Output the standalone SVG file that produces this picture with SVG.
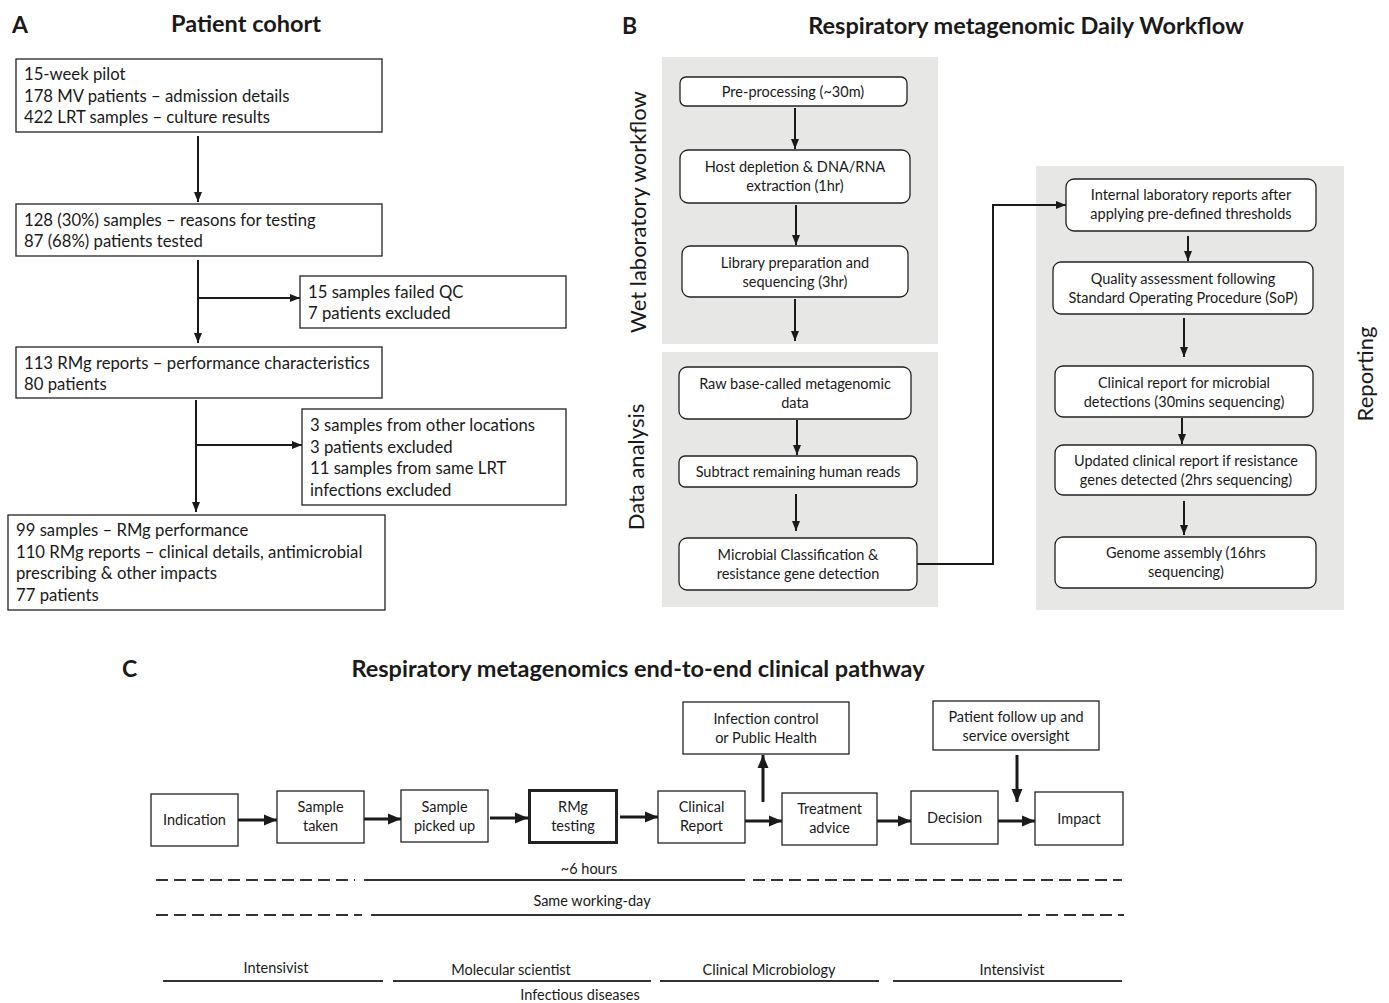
<svg xmlns="http://www.w3.org/2000/svg" width="1389" height="1003" viewBox="0 0 1389 1003">
<defs>
<marker id="ah" markerUnits="userSpaceOnUse" markerWidth="10" markerHeight="10" viewBox="0 0 10 10" refX="10" refY="5" orient="auto"><path d="M0,1 L10,5 L0,9 Z" fill="#1a1a1a"/></marker>
<marker id="ahc" markerUnits="userSpaceOnUse" markerWidth="13" markerHeight="13" viewBox="0 0 13 13" refX="13" refY="6.5" orient="auto"><path d="M0,1 L13,6.5 L0,12 Z" fill="#1a1a1a"/></marker>
</defs>
<style>
text{font-family:Lato,"Open Sans","Liberation Sans",sans-serif;fill:#1a1a1a}
.lbl{font-weight:bold;font-size:23px}
.ttl{font-weight:bold;font-size:23.5px;text-anchor:middle}
.a{font-size:16.7px}
.b{font-size:14.5px;text-anchor:middle}
.c{font-size:14.5px;text-anchor:middle}
.t{font-size:14.5px;text-anchor:middle}
.v{font-size:22px;text-anchor:middle}
.box{fill:#fff;stroke:#222;stroke-width:1.3}
.rbox{fill:#fff;stroke:#222;stroke-width:1.3}
.bg{fill:#e7e8e6}
.con{fill:none;stroke:#1a1a1a;stroke-width:2}
.conc{fill:none;stroke:#1a1a1a;stroke-width:3}
.tl{fill:none;stroke:#333;stroke-width:2}
.dash{stroke-dasharray:12 6}
</style>

<!-- Panel labels and titles -->
<text class="lbl" x="12" y="33">A</text>
<text class="ttl" x="246" y="32">Patient cohort</text>
<text class="lbl" x="622" y="34">B</text>
<text class="ttl" x="1026" y="34">Respiratory metagenomic Daily Workflow</text>
<text class="lbl" x="122" y="677">C</text>
<text class="ttl" x="638" y="677">Respiratory metagenomics end-to-end clinical pathway</text>

<!-- Panel B backgrounds -->
<rect class="bg" x="662" y="57" width="276" height="287"/>
<rect class="bg" x="662" y="352" width="276" height="255"/>
<rect class="bg" x="1036" y="166" width="308" height="444"/>
<text class="v" transform="translate(646,212) rotate(-90)">Wet laboratory workflow</text>
<text class="v" transform="translate(644,467) rotate(-90)">Data analysis</text>
<text class="v" transform="translate(1373,374) rotate(-90)">Reporting</text>

<!-- Connectors -->
<g id="connectors">
<path class="con" d="M198,136 V202" marker-end="url(#ah)"/>
<path class="con" d="M198,260 V343" marker-end="url(#ah)"/>
<path class="con" d="M198,298 H300" marker-end="url(#ah)"/>
<path class="con" d="M196,400 V512" marker-end="url(#ah)"/>
<path class="con" d="M196,445 H302" marker-end="url(#ah)"/>

<path class="con" d="M795,108 V149" marker-end="url(#ah)"/>
<path class="con" d="M796,205 V245" marker-end="url(#ah)"/>
<path class="con" d="M795,299 V341" marker-end="url(#ah)"/>
<path class="con" d="M797,420 V455" marker-end="url(#ah)"/>
<path class="con" d="M796,494 V531" marker-end="url(#ah)"/>
<path class="con" d="M917,564 H993 V205 H1066" marker-end="url(#ah)"/>
<path class="con" d="M1188,236 V261" marker-end="url(#ah)"/>
<path class="con" d="M1184,318 V357" marker-end="url(#ah)"/>
<path class="con" d="M1182,418 V444" marker-end="url(#ah)"/>
<path class="con" d="M1184,501 V535" marker-end="url(#ah)"/>

<path class="conc" d="M238,820 H277" marker-end="url(#ahc)"/>
<path class="conc" d="M364,819 H401" marker-end="url(#ahc)"/>
<path class="conc" d="M490,818 H528" marker-end="url(#ahc)"/>
<path class="conc" d="M620,817 H658" marker-end="url(#ahc)"/>
<path class="conc" d="M745,821 H782" marker-end="url(#ahc)"/>
<path class="conc" d="M763,802 V755" marker-end="url(#ahc)"/>
<path class="conc" d="M877,821 H911" marker-end="url(#ahc)"/>
<path class="conc" d="M998,821 H1035" marker-end="url(#ahc)"/>
<path class="conc" d="M1017,755 V802" marker-end="url(#ahc)"/>
</g>

<!-- Panel A nodes -->
<g id="a1"><rect class="box" x="16" y="59" width="366" height="73"/>
<text class="a" x="24" y="80">15-week pilot</text><text class="a" x="24" y="102">178 MV patients – admission details</text><text class="a" x="24" y="123">422 LRT samples – culture results</text></g>
<g id="a2"><rect class="box" x="16" y="204" width="366" height="52"/>
<text class="a" x="24" y="226">128 (30%) samples – reasons for testing</text><text class="a" x="24" y="247">87 (68%) patients tested</text></g>
<g id="a3"><rect class="box" x="300" y="276" width="266" height="52"/>
<text class="a" x="308" y="298">15 samples failed QC</text><text class="a" x="308" y="319">7 patients excluded</text></g>
<g id="a4"><rect class="box" x="16" y="347" width="366" height="51"/>
<text class="a" x="24" y="369">113 RMg reports – performance characteristics</text><text class="a" x="24" y="390">80 patients</text></g>
<g id="a5"><rect class="box" x="302" y="409" width="264" height="96"/>
<text class="a" x="310" y="431">3 samples from other locations</text><text class="a" x="310" y="453">3 patients excluded</text><text class="a" x="310" y="474">11 samples from same LRT</text><text class="a" x="310" y="496">infections excluded</text></g>
<g id="a6"><rect class="box" x="8" y="515" width="377" height="95"/>
<text class="a" x="16" y="536">99 samples – RMg performance</text><text class="a" x="16" y="558">110 RMg reports – clinical details, antimicrobial</text><text class="a" x="16" y="579">prescribing &amp; other impacts</text><text class="a" x="16" y="601">77 patients</text></g>

<!-- Panel B nodes -->
<g id="b1"><rect class="rbox" x="680" y="77" width="227" height="29" rx="6"/><text class="b" x="793" y="97">Pre-processing (~30m)</text></g>
<g id="b2"><rect class="rbox" x="680" y="150" width="230" height="53" rx="8"/><text class="b" x="795" y="172">Host depletion &amp; DNA/RNA</text><text class="b" x="795" y="191">extraction (1hr)</text></g>
<g id="b3"><rect class="rbox" x="682" y="246" width="226" height="51" rx="8"/><text class="b" x="795" y="268">Library preparation and</text><text class="b" x="795" y="287">sequencing (3hr)</text></g>
<g id="b4"><rect class="rbox" x="679" y="367" width="232" height="52" rx="8"/><text class="b" x="795" y="389">Raw base-called metagenomic</text><text class="b" x="795" y="408">data</text></g>
<g id="b5"><rect class="rbox" x="679" y="456" width="238" height="31" rx="6"/><text class="b" x="798" y="477">Subtract remaining human reads</text></g>
<g id="b6"><rect class="rbox" x="679" y="538" width="238" height="52" rx="8"/><text class="b" x="798" y="560">Microbial Classification &amp;</text><text class="b" x="798" y="579">resistance gene detection</text></g>
<g id="b7"><rect class="rbox" x="1066" y="179" width="250" height="52" rx="8"/><text class="b" x="1191" y="200">Internal laboratory reports after</text><text class="b" x="1191" y="219">applying pre-defined thresholds</text></g>
<g id="b8"><rect class="rbox" x="1053" y="262" width="260" height="52" rx="8"/><text class="b" x="1183" y="284">Quality assessment following</text><text class="b" x="1183" y="303">Standard Operating Procedure (SoP)</text></g>
<g id="b9"><rect class="rbox" x="1055" y="366" width="258" height="51" rx="8"/><text class="b" x="1184" y="388">Clinical report for microbial</text><text class="b" x="1184" y="407">detections (30mins sequencing)</text></g>
<g id="b10"><rect class="rbox" x="1055" y="445" width="261" height="50" rx="8"/><text class="b" x="1186" y="466">Updated clinical report if resistance</text><text class="b" x="1186" y="485">genes detected  (2hrs sequencing)</text></g>
<g id="b11"><rect class="rbox" x="1055" y="537" width="261" height="51" rx="8"/><text class="b" x="1186" y="558">Genome assembly (16hrs</text><text class="b" x="1186" y="577">sequencing)</text></g>

<!-- Panel C nodes -->
<g id="c1"><rect class="box" x="151" y="794" width="87" height="52"/><text class="c" x="194.5" y="825">Indication</text></g>
<g id="c2"><rect class="box" x="277" y="791" width="87" height="52"/><text class="c" x="320.5" y="812">Sample</text><text class="c" x="320.5" y="831">taken</text></g>
<g id="c3"><rect class="box" x="401" y="790" width="87" height="52"/><text class="c" x="444.5" y="812">Sample</text><text class="c" x="444.5" y="831">picked up</text></g>
<g id="c4"><rect class="box" x="529.5" y="790.5" width="87" height="52" style="stroke-width:3"/><text class="c" x="573" y="812">RMg</text><text class="c" x="573" y="831">testing</text></g>
<g id="c5"><rect class="box" x="658" y="791" width="87" height="52"/><text class="c" x="701.5" y="812">Clinical</text><text class="c" x="701.5" y="831">Report</text></g>
<g id="c6"><rect class="box" x="683" y="702" width="166" height="52"/><text class="c" x="766" y="724">Infection control</text><text class="c" x="766" y="743">or Public Health</text></g>
<g id="c7"><rect class="box" x="782" y="793" width="95" height="52"/><text class="c" x="829.5" y="814">Treatment</text><text class="c" x="829.5" y="833">advice</text></g>
<g id="c8"><rect class="box" x="911" y="791" width="87" height="53"/><text class="c" x="954.5" y="823">Decision</text></g>
<g id="c9"><rect class="box" x="933" y="701" width="166" height="49"/><text class="c" x="1016" y="722">Patient follow up and</text><text class="c" x="1016" y="741">service oversight</text></g>
<g id="c10"><rect class="box" x="1035" y="792" width="88" height="53"/><text class="c" x="1079" y="824">Impact</text></g>

<!-- Timelines -->
<path class="tl dash" d="M156,880 H355"/>
<path class="tl" d="M364,880 H745"/>
<path class="tl dash" d="M753,880 H1122"/>
<text class="t" x="589" y="874">~6 hours</text>
<path class="tl dash" d="M156,915 H362"/>
<path class="tl" d="M371,915 H1022"/>
<path class="tl dash" d="M1028,915 H1124"/>
<text class="t" x="592" y="906">Same working-day</text>
<path class="tl" d="M163,981 H383"/>
<path class="tl" d="M393,981 H651"/>
<path class="tl" d="M660,981 H879"/>
<path class="tl" d="M893,981 H1122"/>
<text class="t" x="276" y="973">Intensivist</text>
<text class="t" x="511" y="975">Molecular scientist</text>
<text class="t" x="769" y="975">Clinical Microbiology</text>
<text class="t" x="1012" y="975">Intensivist</text>
<text class="t" x="580" y="1000">Infectious diseases</text>
</svg>
